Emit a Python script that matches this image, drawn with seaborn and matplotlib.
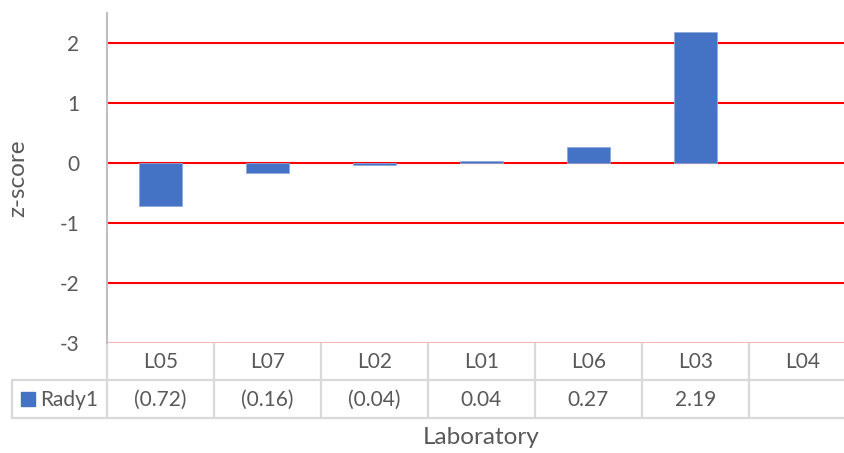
import matplotlib
matplotlib.use("Agg")
import matplotlib.pyplot as plt
import seaborn as sns
import numpy as np
import pandas as pd
from matplotlib.patches import Rectangle

# ---- data ----
labs = ["L05", "L07", "L02", "L01", "L06", "L03", "L04"]
zscores = [-0.72, -0.16, -0.04, 0.04, 0.27, 2.19, np.nan]
series_name = "Rady1"
yticks = [-3, -2, -1, 0, 1, 2]

df = pd.DataFrame({"Laboratory": labs, "z": zscores})

sns.set_theme(style="white")
plt.rcParams["font.family"] = ["Lato", "DejaVu Sans"]

W, H = 845, 453
fig = plt.figure(figsize=(W / 100, H / 100), dpi=100)

# plot area in pixels
left_px, right_px, top_px, bot_px = 107, 856, 13, 343
ax = fig.add_axes([left_px / W, (H - bot_px) / H, (right_px - left_px) / W, (bot_px - top_px) / H])

bar_color = "#4472C4"
text_color = "#595959"
grid_color = "#D9D9D9"
fs = 15

sns.barplot(data=df, x="Laboratory", y="z", color=bar_color, width=0.41,
            saturation=1, ax=ax, edgecolor="#8FAADC", linewidth=0.6, zorder=3)

ax.set_xlim(-0.5, len(labs) - 0.5)
ax.set_ylim(-3, 2.5)
ax.set_yticks(yticks)
ax.set_yticklabels([str(t) for t in yticks], color=text_color, fontsize=fs)
ax.tick_params(axis="y", length=0, pad=20)
ax.set_xticks([])
ax.set_xlabel("")
ax.set_ylabel("")

for t in yticks:
    if t == -3:
        continue
    ax.axhline(t, color="#FF0000", lw=1.5, zorder=2)
ax.axhline(-3, color="#F2B8B8", lw=1.5, zorder=2)

for s in ["top", "right", "bottom"]:
    ax.spines[s].set_visible(False)
ax.spines["left"].set_color("#BFBFBF")
ax.spines["left"].set_linewidth(1.5)

# ---- data table below the axis ----
px_per_unit_y = (bot_px - top_px) / 5.5  # 60 px per unit
def y_data(px):
    return -3 - (px - bot_px) / px_per_unit_y

row1_bot = y_data(380)
row2_bot = y_data(418)
row1_mid = y_data(362)
row2_mid = y_data(400)
x_left_tab = -0.5 - (left_px - 12) / ((right_px - left_px) / len(labs))

kw = dict(color=grid_color, lw=1.6, clip_on=False, zorder=1)
for i in range(len(labs) + 1):
    ax.plot([i - 0.5, i - 0.5], [-3, row2_bot], **kw)
ax.plot([x_left_tab, x_left_tab], [row1_bot, row2_bot], **kw)
ax.plot([x_left_tab, len(labs) - 0.5], [row1_bot, row1_bot], **kw)
ax.plot([x_left_tab, len(labs) - 0.5], [row2_bot, row2_bot], **kw)
ax.spines["left"].set_bounds(-3, 2.5)

def fmt(v):
    if np.isnan(v):
        return ""
    return f"({abs(v):.2f})" if v < 0 else f"{v:.2f}"

for i, (lab, v) in enumerate(zip(labs, zscores)):
    ax.text(i, row1_mid, lab, ha="center", va="center", fontsize=fs,
            color=text_color, clip_on=False)
    ax.text(i, row2_mid, fmt(v), ha="center", va="center", fontsize=fs,
            color=text_color, clip_on=False)

# legend key + series name
fig.patches.append(Rectangle((21 / W, (H - 406) / H), 14 / W, 14 / H,
                             transform=fig.transFigure, color=bar_color))
fig.text(40 / W, (H - 400) / H, series_name, ha="left", va="center",
         fontsize=fs, color=text_color)

fig.text(481 / W, (H - 438) / H, "Laboratory", ha="center", va="center",
         fontsize=17.5, color=text_color)
fig.text(18 / W, (H - 178) / H, "z-score", ha="center", va="center",
         rotation=90, fontsize=17.5, color=text_color)

fig.savefig("out.png", dpi=100)
